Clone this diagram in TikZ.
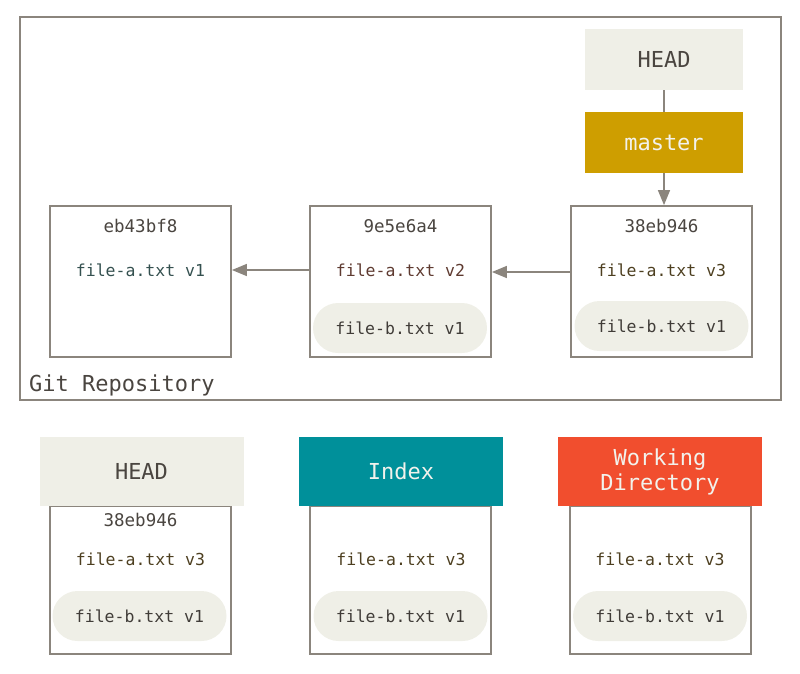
\documentclass[tikz,border=0pt]{standalone}
\usepackage{fontspec}
\setmonofont{DejaVu Sans Mono}
\usetikzlibrary{arrows.meta}
\definecolor{linegrey}{HTML}{8B857D}
\definecolor{lightfill}{HTML}{EFEFE7}
\definecolor{gold}{HTML}{CE9E00}
\definecolor{tealc}{HTML}{00909A}
\definecolor{redc}{HTML}{F14E2E}
\definecolor{hashc}{HTML}{4A4540}
\definecolor{vone}{HTML}{34504F}
\definecolor{vtwo}{HTML}{5E3A30}
\definecolor{vthree}{HTML}{4D3F20}
\definecolor{fileb}{HTML}{403C38}
\definecolor{labelc}{HTML}{F2F2EC}
\tikzset{
  commitbox/.style={draw=linegrey, line width=1.8pt, minimum width=181pt, minimum height=151pt, inner sep=0pt},
  treebox/.style={draw=linegrey, line width=2pt, minimum width=181pt, minimum height=148pt, inner sep=0pt},
  refbox/.style={fill=lightfill, minimum width=158pt, minimum height=61pt, inner sep=0pt, font=\ttfamily\fontsize{22}{25}\selectfont, text=hashc},
  header/.style={minimum width=204pt, minimum height=69pt, inner sep=0pt, align=center, font=\ttfamily\fontsize{22}{25}\selectfont},
  hashtxt/.style={inner sep=0pt, font=\ttfamily\fontsize{17.5}{20}\selectfont, text=hashc},
  filetxt/.style={inner sep=0pt, font=\ttfamily\fontsize{16.5}{20}\selectfont},
  pill/.style={fill=lightfill, rounded corners=25pt, minimum width=174pt, minimum height=50pt, inner sep=0pt, font=\ttfamily\fontsize{16.5}{20}\selectfont, text=fileb},
  conn/.style={draw=linegrey, line width=1.5pt},
  arr/.style={conn, -{Triangle[length=15pt,width=12pt]}},
}
\begin{document}
\begin{tikzpicture}[x=1pt,y=-1pt]
\useasboundingbox (0,0) rectangle (800,673);
% repository
\node[draw=linegrey, line width=1.3pt, minimum width=761pt, minimum height=383pt, inner sep=0pt] (repo) at (400.5,208.5) {};
\node[anchor=west, inner sep=0pt, font=\ttfamily\fontsize{22}{25}\selectfont, text=hashc] (repolabel) at (29,385) {Git Repository};
% refs
\node[refbox] (head) at (664,59.5) {HEAD};
\node[refbox, fill=gold, text=labelc] (master) at (664,142.5) {master};
% commits
\node[commitbox] (c1) at (140.5,281.5) {};
\node[commitbox] (c2) at (400.5,281.5) {};
\node[commitbox] (c3) at (661.5,281.5) {};
\node[hashtxt] (h1) at (140.5,226) {eb43bf8};
\node[hashtxt] (h2) at (400.5,226) {9e5e6a4};
\node[hashtxt] (h3) at (661.5,226) {38eb946};
\node[filetxt, text=vone] (a1) at (140.5,270) {file-a.txt v1};
\node[filetxt, text=vtwo] (a2) at (400.5,270) {file-a.txt v2};
\node[filetxt, text=vthree] (a3) at (661.5,270) {file-a.txt v3};
\node[pill] (b2) at (400,328) {file-b.txt v1};
\node[pill] (b3) at (661.5,326) {file-b.txt v1};
% connectors
\draw[conn] (head.south) -- (master.north);
\draw[arr] (master.south) -- (master.south |- c3.north);
\draw[arr] (c2.west |- a2) -- (c1.east |- a1);
\draw[arr] (c3.west |- 0,272) -- (c2.east |- 0,272);
% bottom trees
\node[treebox] (t1) at (140.5,580) {};
\node[treebox] (t2) at (400.5,580) {};
\node[treebox] (t3) at (660,580) {};
\node[header, fill=lightfill, text=hashc] (hhead) at (141.5,471.5) {HEAD};
\node[header, fill=tealc, text=labelc] (hindex) at (401,471.5) {Index};
\node[header, fill=redc, text=labelc] (hwork) at (660,471.5) {Working\\Directory};
\node[hashtxt] (th1) at (140.5,520) {38eb946};
\node[filetxt, text=vthree] (ta1) at (140.5,559) {file-a.txt v3};
\node[filetxt, text=vthree] (ta2) at (401,559) {file-a.txt v3};
\node[filetxt, text=vthree] (ta3) at (660,559) {file-a.txt v3};
\node[pill] (tb1) at (139.5,616) {file-b.txt v1};
\node[pill] (tb2) at (400.5,616) {file-b.txt v1};
\node[pill] (tb3) at (660,616) {file-b.txt v1};
\end{tikzpicture}
\end{document}
